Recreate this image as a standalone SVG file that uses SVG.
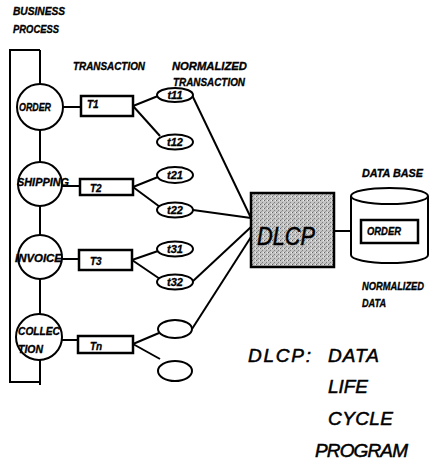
<svg xmlns="http://www.w3.org/2000/svg" width="430" height="465" viewBox="0 0 430 465">
<style>
.ln{stroke:#000;stroke-width:2;fill:none}
.nd{stroke:#000;stroke-width:2;fill:#fff}
.bx{stroke:#000;stroke-width:2.5;fill:#fff}
.lb{font-family:"Liberation Sans",Arial,sans-serif;font-weight:bold;font-style:italic;font-size:10px;fill:#000;stroke:#000;stroke-width:0.3}
.sm{font-family:"Liberation Sans",Arial,sans-serif;font-weight:bold;font-style:italic;font-size:11px;fill:#000;stroke:#000;stroke-width:0.3}
.big{font-family:"Liberation Sans",Arial,sans-serif;font-style:italic;font-size:19px;fill:#000;stroke:#000;stroke-width:0.5}
</style>
<defs>
<pattern id="stip" width="4" height="4" patternUnits="userSpaceOnUse">
<rect width="4" height="4" fill="#c4c4c4"/>
<rect x="0" y="0" width="1" height="1" fill="#666"/>
<rect x="2" y="2" width="1" height="1" fill="#808080"/>
<rect x="3" y="0" width="1" height="1" fill="#eee"/>
<rect x="1" y="3" width="1" height="1" fill="#999"/>
</pattern>
</defs>

<g id="labels">
<text class="lb" x="13" y="15" textLength="52" lengthAdjust="spacingAndGlyphs">BUSINESS</text>
<text class="lb" x="13" y="33" textLength="46" lengthAdjust="spacingAndGlyphs">PROCESS</text>
<text class="lb" x="73" y="70" textLength="72" lengthAdjust="spacingAndGlyphs">TRANSACTION</text>
<text class="lb" x="172" y="70" textLength="75" lengthAdjust="spacingAndGlyphs">NORMALIZED</text>
<text class="lb" x="173" y="86" textLength="72" lengthAdjust="spacingAndGlyphs">TRANSACTION</text>
<text class="lb" x="362" y="177" textLength="61" lengthAdjust="spacingAndGlyphs">DATA BASE</text>
<text class="lb" x="362" y="290" textLength="62" lengthAdjust="spacingAndGlyphs">NORMALIZED</text>
<text class="lb" x="362" y="307" textLength="24" lengthAdjust="spacingAndGlyphs">DATA</text>
<text class="big" x="248" y="362" textLength="63" lengthAdjust="spacing">DLCP:</text>
<text class="big" x="328" y="362" textLength="51" lengthAdjust="spacing">DATA</text>
<text class="big" x="328" y="393" textLength="40" lengthAdjust="spacing">LIFE</text>
<text class="big" x="328" y="425" textLength="65" lengthAdjust="spacing">CYCLE</text>
<text class="big" x="315" y="457" textLength="93" lengthAdjust="spacing">PROGRAM</text>
</g>

<g id="connectors">
<polyline class="ln" points="40,50 10,50 10,382 40,382"/>
<line class="ln" x1="40" y1="50" x2="40" y2="385"/>
<line class="ln" x1="62" y1="107" x2="81" y2="107"/>
<line class="ln" x1="62" y1="186" x2="80" y2="186"/>
<line class="ln" x1="62" y1="259" x2="79" y2="259"/>
<line class="ln" x1="61" y1="340" x2="78" y2="340"/>
<line class="ln" x1="133" y1="106" x2="158" y2="96"/>
<line class="ln" x1="133" y1="106" x2="160" y2="136"/>
<line class="ln" x1="133" y1="187" x2="158" y2="177"/>
<line class="ln" x1="133" y1="187" x2="160" y2="207"/>
<line class="ln" x1="132" y1="260" x2="158" y2="251"/>
<line class="ln" x1="132" y1="260" x2="160" y2="279"/>
<line class="ln" x1="133" y1="344" x2="159" y2="333"/>
<line class="ln" x1="133" y1="344" x2="160" y2="359"/>
<line class="ln" x1="192" y1="95" x2="251" y2="218"/>
<line class="ln" x1="193" y1="210" x2="251" y2="218"/>
<line class="ln" x1="192" y1="282" x2="251" y2="227"/>
<line class="ln" x1="192" y1="329" x2="251" y2="237"/>
<line class="ln" x1="335" y1="231" x2="361" y2="231"/>
</g>

<g id="order"><circle class="nd" cx="40" cy="107" r="23"/><text class="lb" x="19" y="111" textLength="32" lengthAdjust="spacingAndGlyphs">ORDER</text></g>
<g id="shipping"><circle class="nd" cx="40" cy="184" r="22"/><text class="lb" x="17" y="186" textLength="52" lengthAdjust="spacingAndGlyphs">SHIPPING</text></g>
<g id="invoice"><circle class="nd" cx="40" cy="257" r="22"/><text class="lb" x="15" y="262" textLength="47" lengthAdjust="spacingAndGlyphs">INVOICE</text></g>
<g id="collection"><circle class="nd" cx="39" cy="337" r="23"/><text class="lb" x="18" y="335" textLength="42" lengthAdjust="spacingAndGlyphs">COLLEC</text><text class="lb" x="18" y="353" textLength="25" lengthAdjust="spacingAndGlyphs">TION</text></g>

<g id="T1"><rect class="bx" x="81" y="96" width="52" height="20"/><text class="lb" x="87" y="108">T1</text></g>
<g id="T2"><rect class="bx" x="80" y="179" width="53" height="16"/><text class="lb" x="90" y="192">T2</text></g>
<g id="T3"><rect class="bx" x="79" y="250" width="53" height="20"/><text class="lb" x="90" y="265">T3</text></g>
<g id="Tn"><rect class="bx" x="78" y="336" width="55" height="17"/><text class="lb" x="90" y="350">Tn</text></g>

<g id="t11"><ellipse class="nd" cx="175" cy="95" rx="18" ry="7"/><text class="sm" x="175" y="99" text-anchor="middle">t11</text></g>
<g id="t12"><ellipse class="nd" cx="175" cy="142" rx="18" ry="7.5"/><text class="sm" x="175" y="146" text-anchor="middle">t12</text></g>
<g id="t21"><ellipse class="nd" cx="175" cy="175" rx="18" ry="8"/><text class="sm" x="175" y="179" text-anchor="middle">t21</text></g>
<g id="t22"><ellipse class="nd" cx="175" cy="210" rx="18" ry="7.5"/><text class="sm" x="175" y="214" text-anchor="middle">t22</text></g>
<g id="t31"><ellipse class="nd" cx="175" cy="249" rx="18" ry="7.5"/><text class="sm" x="175" y="253" text-anchor="middle">t31</text></g>
<g id="t32"><ellipse class="nd" cx="175" cy="282" rx="18" ry="7.5"/><text class="sm" x="175" y="286" text-anchor="middle">t32</text></g>
<g id="tn1"><ellipse class="nd" cx="175" cy="329" rx="17" ry="9"/></g>
<g id="tn2"><ellipse class="nd" cx="175" cy="371" rx="17" ry="10"/></g>

<g id="dlcp"><rect x="251" y="193" width="83" height="74" fill="url(#stip)" stroke="#000" stroke-width="2.5"/><text class="big" x="257" y="245" textLength="58" lengthAdjust="spacingAndGlyphs" style="font-size:26px">DLCP</text></g>

<g id="database">
<path class="nd" d="M351,196 L351,255 A38.5,8 0 0 0 428,255 L428,196"/>
<ellipse class="nd" cx="389.5" cy="196" rx="38.5" ry="8"/>
<rect class="bx" x="361" y="220" width="57" height="23"/>
<text class="lb" x="367" y="235" textLength="34" lengthAdjust="spacingAndGlyphs">ORDER</text>
</g>
</svg>
